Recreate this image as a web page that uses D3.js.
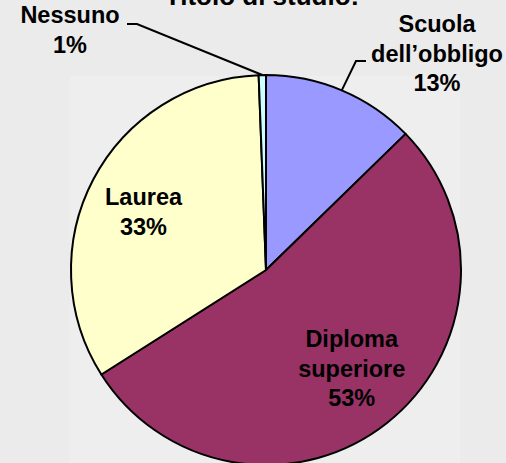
<!DOCTYPE html>
<html><head><meta charset="utf-8">
<script src="https://cdn.jsdelivr.net/npm/d3@7"></script>
<style>
html,body{margin:0;padding:0;background:#ebebeb;}
svg{display:block;font-family:"Liberation Sans",Arial,sans-serif;}
</style></head>
<body>
<svg id="chart" width="506" height="463"></svg>
<script>
const title = "Titolo di studio:";
const categories = ["Scuola\ndell\u2019obbligo", "Diploma\nsuperiore", "Laurea", "Nessuno"];
const values = [12.7, 53.3, 33.4, 0.6];
const colors = ["#9999ff", "#993366", "#ffffcc", "#ccffff"];

const W = 506, H = 463;
const cx = 266, cy = 270, R = 195;
const svg = d3.select("#chart");

// plot area background
svg.append("rect").attr("x", 70).attr("y", 76).attr("width", 390).attr("height", H - 76).attr("fill", "#eeeeee");

const data = categories.map((c, i) => ({name: c, value: values[i], color: colors[i]}));
const pie = d3.pie().value(d => d.value).sort(null);
const arcs = pie(data);
const arc = d3.arc().innerRadius(0).outerRadius(R);
const edge = d3.arc().innerRadius(R).outerRadius(R);
const labelArc = d3.arc().innerRadius(135).outerRadius(135);

const g = svg.append("g").attr("transform", `translate(${cx},${cy})`);
g.selectAll("path.slice").data(arcs).join("path")
  .attr("class", "slice")
  .attr("d", arc)
  .attr("fill", d => d.data.color)
  .attr("stroke", "#000").attr("stroke-width", 2).attr("stroke-linejoin", "round");

const fs = 23.5, lh = 29.5;
function label(lines, x, y) {
  const t = svg.append("text").attr("text-anchor", "middle")
    .attr("font-size", fs).attr("font-weight", "bold").attr("fill", "#000");
  lines.forEach((l, i) => t.append("tspan").attr("x", x).attr("y", y + i * lh).text(l));
}
const pct = d => Math.round(d.value / d3.sum(values) * 100) + "%";

// inside labels (Diploma, Laurea)
const inside = [{i: 1, dx: 2, dy: -8}, {i: 2, dx: -3, dy: 4}];
inside.forEach(o => {
  const a = arcs[o.i];
  const [lx, ly] = labelArc.centroid(a);
  const lines = a.data.name.split("\n").concat([pct(a.data)]);
  const top = cy + ly - ((lines.length - 1) * lh) / 2 + 9 + o.dy;
  label(lines, cx + lx + o.dx, top);
});

// outside labels with leaders
const outside = [
  {i: 0, tx: 437, ty: 32, elbow: [356, 61], end: [366, 61]},
  {i: 3, tx: 70, ty: 23, elbow: [137, 24], end: [127, 24]}
];
outside.forEach(o => {
  const a = arcs[o.i];
  const [px, py] = edge.centroid(a);
  svg.append("polyline")
    .attr("points", [[cx + px, cy + py], o.elbow, o.end].map(p => p.join(",")).join(" "))
    .attr("fill", "none").attr("stroke", "#000").attr("stroke-width", 2);
  const lines = a.data.name.split("\n").concat([pct(a.data)]);
  label(lines, o.tx, o.ty);
});

// title (partly cut off at the top, as in the original)
svg.append("text").attr("x", 262).attr("y", 5).attr("text-anchor", "middle")
  .attr("font-size", 26).attr("font-weight", "bold").text(title);
</script>
</body></html>
